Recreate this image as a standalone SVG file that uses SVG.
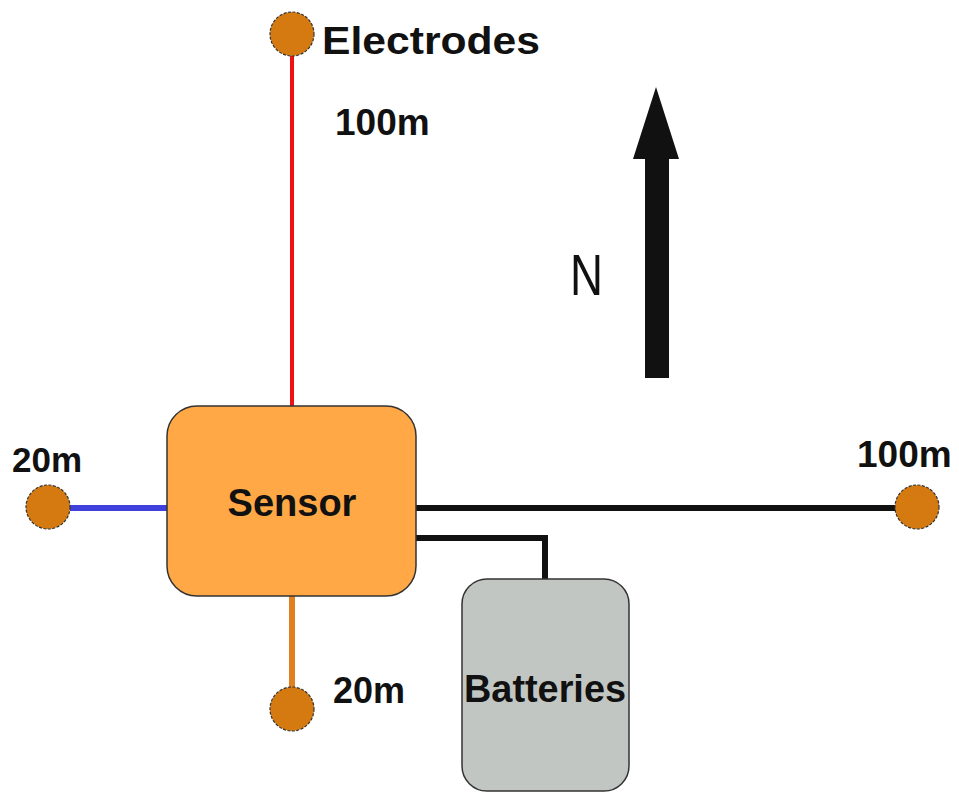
<svg xmlns="http://www.w3.org/2000/svg" width="959" height="794" viewBox="0 0 959 794">
<style>
.lbl{font-family:"Liberation Sans",Arial,sans-serif;font-weight:bold;fill:#111;}
.end{fill:#D47A10;stroke:#333;stroke-width:1.2;stroke-dasharray:3 1.5;}
.wire{fill:none;stroke-width:6;}
.box{stroke:#333;stroke-width:1.5;}
</style>
<rect width="959" height="794" fill="#fff"/>
<g id="connectors">
<line class="wire" x1="292" y1="56" x2="292" y2="407" stroke="#F01010" style="stroke-width:4"/>
<line class="wire" x1="70" y1="508" x2="167" y2="508" stroke="#4040DD"/>
<line class="wire" x1="416" y1="508" x2="896" y2="508" stroke="#111"/>
<polyline class="wire" points="416,538 545,538 545,579" stroke="#111"/>
<line class="wire" x1="292" y1="596" x2="292" y2="688" stroke="#E08020"/>
</g>
<g id="sensor">
<rect class="box" x="167" y="406" width="249" height="190" rx="30" fill="#FFA845"/>
<text class="lbl" x="292" y="516" font-size="38" text-anchor="middle">Sensor</text>
</g>
<g id="batteries">
<rect class="box" x="462" y="579" width="167" height="212" rx="25" fill="#C2C6C2"/>
<text class="lbl" x="545" y="702" font-size="38" text-anchor="middle" textLength="162" lengthAdjust="spacingAndGlyphs">Batteries</text>
</g>
<g id="electrode-north">
<circle class="end" cx="292" cy="34" r="22"/>
<text class="lbl" x="322" y="54" font-size="38" textLength="218" lengthAdjust="spacingAndGlyphs">Electrodes</text>
<text class="lbl" x="335" y="135" font-size="37">100m</text>
</g>
<g id="electrode-west">
<circle class="end" cx="48" cy="507" r="22"/>
<text class="lbl" x="12" y="472" font-size="35">20m</text>
</g>
<g id="electrode-east">
<circle class="end" cx="917" cy="507" r="22"/>
<text class="lbl" x="857" y="467" font-size="37">100m</text>
</g>
<g id="electrode-south">
<circle class="end" cx="292" cy="709" r="22"/>
<text class="lbl" x="333" y="703" font-size="36">20m</text>
</g>
<g id="north-arrow">
<polygon points="656,87 679,159 669,159 669,378 645,378 645,159 633,159" fill="#111"/>
<text x="570" y="295" font-family="'Liberation Sans',Arial,sans-serif" font-size="57" fill="#111" textLength="33" lengthAdjust="spacingAndGlyphs">N</text>
</g>
</svg>
